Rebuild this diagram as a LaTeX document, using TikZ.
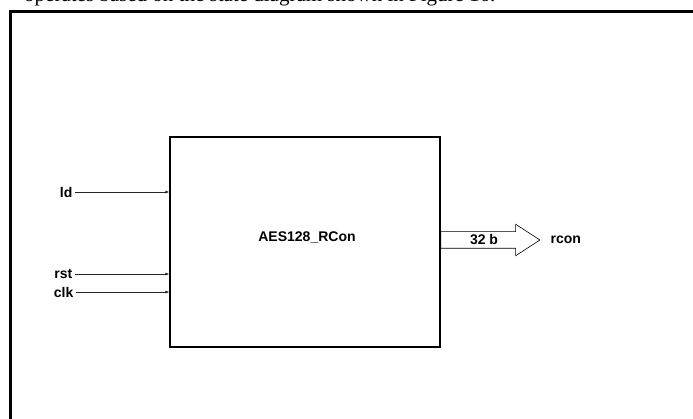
\documentclass[tikz,border=0pt]{standalone}
\usepackage{fontspec}
\setmainfont{Liberation Serif}
\newfontfamily\arialfont{Liberation Sans}
\usetikzlibrary{arrows.meta,positioning,shapes.arrows}

\begin{document}
\begin{tikzpicture}[x=1pt,y=1pt,>=Latex,font=\arialfont\bfseries\fontsize{14}{16}\selectfont]
 \tikzset{box/.style={draw,line width=1.2pt,minimum width=270pt,minimum height=210pt,inner sep=0pt},
          arr/.style={->,line width=0.7pt,draw=black!85,>={Latex[length=4pt,width=3pt]}},
          sig/.style={anchor=east,inner sep=2.5pt},
          bus/.style={draw,single arrow,single arrow head extend=7.5pt,single arrow head indent=0pt,
                      single arrow tip angle=66,minimum height=99pt,inner xsep=2pt,inner ysep=3pt,
                      text height=10pt,text depth=0pt,line width=0.6pt}}
 \useasboundingbox (0,0) rectangle (693,418);
 \clip (0,0) rectangle (693,418);
 % text of the page above the figure
 \node[anchor=base west,inner sep=0pt,font=\rmfamily\fontsize{21}{24}\selectfont] (pagetext) at (24,416)
   {operates based on the state diagram shown in Figure 16.};
 \draw[line width=3pt] (10.5,-5) |- (700,406.5);
 % block
 \node[box] (box) at (305,176) {};
 \node (title) at (307,181) {AES128\_RCon};
 % inputs
 \node[sig] (ld) at (75,226) {ld};
 \node[sig] (rst) at (75,144) {rst};
 \node[sig] (clk) at (76,126) {clk};
 \draw[arr] (ld) -- (box.west |- ld);
 \draw[arr] (rst) -- (box.west |- rst);
 \draw[arr] (clk) -- (box.west |- clk);
 % output bus
 \node[bus,anchor=tail] (bus) at ([yshift=2pt]box.east) {32 b};
 \node[anchor=west,inner sep=2pt] (rcon) at ([xshift=8pt]bus.tip) {rcon};
\end{tikzpicture}
\end{document}
